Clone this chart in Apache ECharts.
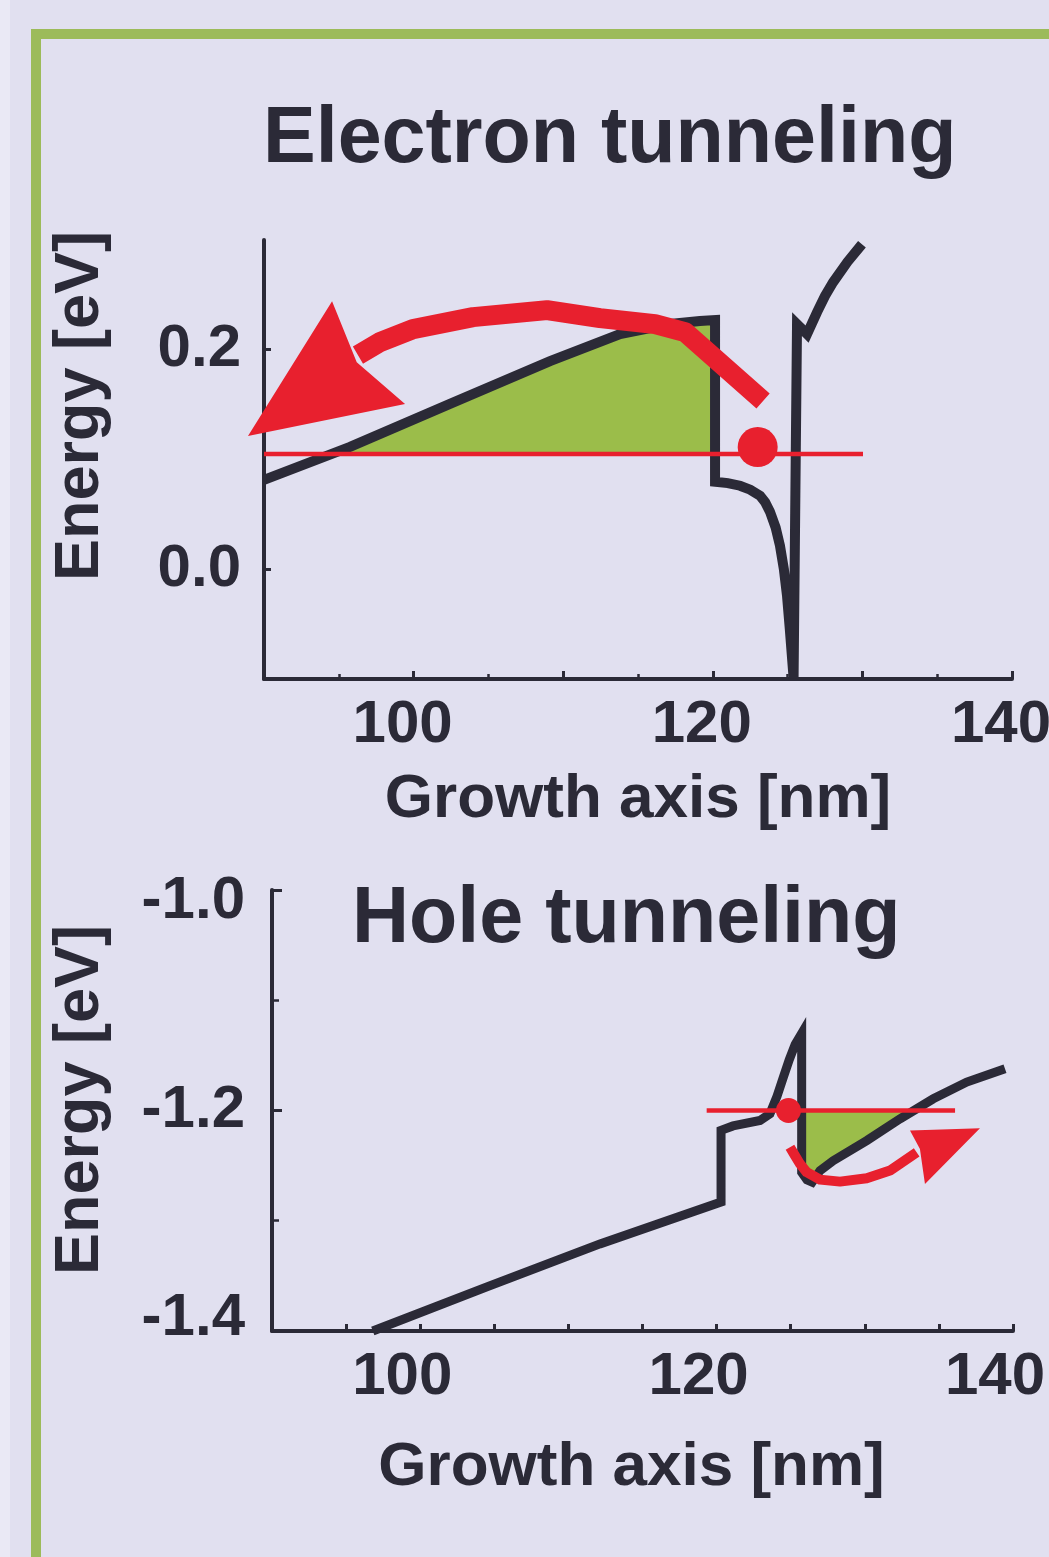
<!DOCTYPE html>
<html>
<head>
<meta charset="utf-8">
<script src="https://cdn.jsdelivr.net/npm/echarts@6/dist/echarts.min.js"></script>
<style>
  html, body { margin: 0; padding: 0; background: #e1e0f0; }
  #chart { width: 1049px; height: 1557px; }
</style>
</head>
<body>
<div id="chart"></div>
<script>
// ---- Band-edge profiles along the growth axis: [position nm, energy eV] ----
const electronBand = [
  [90, 0.0815], [95.75, 0.1115], [102.43, 0.1506], [109.12, 0.1897], [113.8, 0.2143],
  [117.14, 0.2234], [119.14, 0.2261], [120.15, 0.227], [120.15, 0.0797], [121.0, 0.0785],
  [121.82, 0.0761], [122.5, 0.0725], [123.16, 0.067], [123.5, 0.061], [123.82, 0.0525],
  [124.2, 0.038], [124.49, 0.0215], [124.75, 0.0], [124.96, -0.024], [125.15, -0.055],
  [125.4, -0.099], [125.63, 0.2234], [126.3, 0.2143], [126.97, 0.2343], [127.5, 0.249],
  [128.04, 0.2615], [129.0, 0.280], [129.97, 0.2961]
];
const electronLevel = 0.105;            // confined electron state energy
const electronLevelSpan = [90, 130.04]; // extent of the level line
const electronDot = [123.0, 0.1113];
const electronArrowPath = [
  [123.36, 0.1534], [118.14, 0.2161], [116.14, 0.2234], [112.46, 0.2288], [108.92, 0.2361],
  [103.97, 0.2297], [99.96, 0.2188], [97.75, 0.207], [96.28, 0.1952]
];
const electronArrowHead = [[94.55, 0.2443], [88.93, 0.1215], [99.43, 0.1506], [96.2, 0.1885]];

const holeBand = [
  [96.8, -1.4], [104.5, -1.36], [112.13, -1.321], [120.3, -1.283], [120.3, -1.218],
  [121.11, -1.214], [122.93, -1.209], [123.6, -1.203], [124.08, -1.187], [124.5, -1.170],
  [124.9, -1.154], [125.3, -1.140], [125.74, -1.130], [125.74, -1.256], [126.1, -1.263],
  [126.45, -1.265], [126.98, -1.2545], [127.87, -1.2455], [130.13, -1.2273], [132.38, -1.2075],
  [134.62, -1.1894], [136.88, -1.1742], [139.46, -1.1621]
];
const holeLevel = -1.2;
const holeLevelSpan = [119.33, 136.09];
const holeDot = [124.85, -1.2];
const holeArrowPath = [
  [124.95, -1.2333], [125.29, -1.2409], [125.63, -1.2485], [126.08, -1.256], [126.98, -1.2627],
  [128.33, -1.2645], [130.13, -1.2615], [131.7, -1.2545], [133.5, -1.238]
];
const holeArrowHead = [[133.05, -1.2182], [137.77, -1.216], [134.06, -1.2667], [133.72, -1.2349]];

// Tick labels
const electronYTicks = [0.0, 0.2];
const xLabelValues = [100, 120, 140];

// ---- Styling ----
const INK = '#2b2a37';
const RED = '#e8202e';
const FILL = '#9bbd4a';
const FONT = '"Liberation Sans", Arial, Helvetica, sans-serif';

// Region enclosed between a band profile and an energy level (first continuous run on one side)
function regionBetween(curve, level, above) {
  const poly = [];
  let started = false;
  const isIn = p => above ? p[1] >= level : p[1] <= level;
  for (let i = 0; i < curve.length; i++) {
    const p = curve[i];
    const inside = isIn(p);
    if (i > 0) {
      const q = curve[i - 1];
      if (inside !== isIn(q)) {
        const t = (level - q[1]) / (p[1] - q[1]);
        poly.push([q[0] + t * (p[0] - q[0]), level]);
        if (!inside && started) return poly;
        if (inside) started = true;
      }
    }
    if (inside && started) poly.push(p);
  }
  return poly;
}

// Hole region starts after the barrier spike (the band maximum)
let spikeIdx = 0;
holeBand.forEach((p, i) => { if (p[1] > holeBand[spikeIdx][1]) spikeIdx = i; });
const electronRegion = regionBetween(electronBand, electronLevel, true);
const holeRegion = regionBetween(holeBand.slice(spikeIdx), holeLevel, false);

const labelFont = { fontSize: 60, fontWeight: 'bold', color: INK, fontFamily: FONT };
const nameFont = { fontSize: 62, fontWeight: 'bold', color: INK, fontFamily: FONT };

function xAxisOf(gridIndex, opts) {
  return Object.assign({
    gridIndex, type: 'value', min: 90, max: 140,
    name: 'Growth axis [nm]', nameLocation: 'middle', nameMoveOverlap: false,
    axisLine: { show: true, onZero: false, lineStyle: { color: INK, width: 4 } },
    splitLine: { show: false }
  }, opts);
}

function polygonItem(points, fill) {
  return (params, api) => ({
    type: 'polygon',
    shape: { points: points.map(p => api.coord(p)) },
    style: { fill }
  });
}

function arrowItem(path, head, width) {
  return (params, api) => ({
    type: 'group',
    children: [
      { type: 'polyline', shape: { points: path.map(p => api.coord(p)) },
        style: { stroke: RED, lineWidth: width, fill: null, lineJoin: 'round', lineCap: 'butt' } },
      { type: 'polygon', shape: { points: head.map(p => api.coord(p)) }, style: { fill: RED } }
    ]
  });
}

const option = {
  backgroundColor: '#e1e0f0',
  animation: false,
  title: [
    { text: 'Electron tunneling', left: 263, top: 101, padding: 0,
      textStyle: { fontSize: 79, fontWeight: 'bold', color: INK, fontFamily: FONT } },
    { text: 'Hole tunneling', left: 352, top: 881, padding: 0,
      textStyle: { fontSize: 79, fontWeight: 'bold', color: INK, fontFamily: FONT } }
  ],
  grid: [
    { left: 264, top: 240, width: 748, height: 439, containLabel: false, outerBoundsMode: 'none' },
    { left: 272, top: 890, width: 741, height: 441, containLabel: false, outerBoundsMode: 'none' }
  ],
  xAxis: [
    xAxisOf(0, {
      interval: 10, nameGap: 90, nameTextStyle: nameFont,
      axisTick: { show: true, inside: true, length: 8, lineStyle: { color: INK, width: 3 } },
      minorTick: { show: true, splitNumber: 2, length: 5, lineStyle: { color: INK, width: 2.5 } },
      axisLabel: Object.assign({ margin: 16, padding: [0, 22, 0, 0],
        formatter: v => (xLabelValues.indexOf(v) >= 0 ? String(v) : '') }, labelFont)
    }),
    xAxisOf(1, {
      interval: 5, nameGap: 106, nameTextStyle: Object.assign({ padding: [0, 22, 0, 0] }, nameFont),
      axisTick: { show: true, inside: true, length: 7, lineStyle: { color: INK, width: 3 } },
      axisLabel: Object.assign({ margin: 16, padding: [0, 36, 0, 0],
        formatter: v => (xLabelValues.indexOf(v) >= 0 ? String(v) : '') }, labelFont)
    })
  ],
  yAxis: [
    {
      gridIndex: 0, type: 'value', min: -0.1, max: 0.3,
      axisLine: { show: true, onZero: false, lineStyle: { color: INK, width: 4 } },
      axisTick: { show: true, inside: true, length: 7, customValues: electronYTicks,
        lineStyle: { color: INK, width: 3 } },
      splitLine: { show: false },
      axisLabel: Object.assign({ margin: 23, customValues: electronYTicks,
        formatter: v => v.toFixed(1) }, labelFont)
    },
    {
      gridIndex: 1, type: 'value', min: -1.4, max: -1.0, interval: 0.2,
      axisLine: { show: true, onZero: false, lineStyle: { color: INK, width: 4 } },
      axisTick: { show: true, inside: true, length: 10, lineStyle: { color: INK, width: 3 } },
      minorTick: { show: true, splitNumber: 2, length: 7, lineStyle: { color: INK, width: 2.5 } },
      splitLine: { show: false },
      axisLabel: Object.assign({
        margin: 27,
        formatter: v => {
          const s = v.toFixed(1);
          if (Math.abs(v + 1.0) < 1e-9) return '{lo|' + s + '}';
          if (Math.abs(v + 1.4) < 1e-9) return '{hi|' + s + '}';
          return s;
        },
        rich: {
          lo: Object.assign({ padding: [22, 0, 0, 0] }, labelFont),
          hi: Object.assign({ padding: [0, 0, 26, 0] }, labelFont)
        }
      }, labelFont)
    }
  ],
  graphic: [
    { type: 'rect', silent: true, z: -10, shape: { x: 0, y: 0, width: 10, height: 1557 },
      style: { fill: '#eae9f5' } },
    { type: 'polyline', silent: true, shape: { points: [[36, 1557], [36, 34], [1049, 34]] },
      style: { stroke: '#9cbb5a', lineWidth: 10, fill: null } },
    { type: 'text', x: 81, y: 406, rotation: Math.PI / 2, silent: true,
      style: { text: 'Energy [eV]', fontSize: 63, fontWeight: 'bold', fontFamily: FONT,
        fill: INK, align: 'center', verticalAlign: 'middle' } },
    { type: 'text', x: 81, y: 1100, rotation: Math.PI / 2, silent: true,
      style: { text: 'Energy [eV]', fontSize: 63, fontWeight: 'bold', fontFamily: FONT,
        fill: INK, align: 'center', verticalAlign: 'middle' } }
  ],
  series: [
    // ----- Electron tunneling -----
    { type: 'custom', name: 'Electron region', xAxisIndex: 0, yAxisIndex: 0, z: 1, silent: true,
      data: [electronRegion[0]], renderItem: polygonItem(electronRegion, FILL) },
    { type: 'line', name: 'Conduction band', xAxisIndex: 0, yAxisIndex: 0, z: 2,
      data: electronBand, showSymbol: false, silent: true,
      lineStyle: { color: INK, width: 10, join: 'miter' } },
    { type: 'line', name: 'Electron level', xAxisIndex: 0, yAxisIndex: 0, z: 3,
      data: [[electronLevelSpan[0], electronLevel], [electronLevelSpan[1], electronLevel]],
      showSymbol: false, silent: true, lineStyle: { color: RED, width: 4.5 } },
    { type: 'custom', name: 'Electron escape', xAxisIndex: 0, yAxisIndex: 0, z: 4, silent: true,
      clip: false, data: [electronArrowPath[0]],
      renderItem: arrowItem(electronArrowPath, electronArrowHead, 20) },
    { type: 'scatter', name: 'Electron', xAxisIndex: 0, yAxisIndex: 0, z: 5, silent: true,
      data: [electronDot], symbolSize: 40, itemStyle: { color: RED, opacity: 1 } },

    // ----- Hole tunneling -----
    { type: 'custom', name: 'Hole region', xAxisIndex: 1, yAxisIndex: 1, z: 1, silent: true,
      data: [holeRegion[0]], renderItem: polygonItem(holeRegion, FILL) },
    { type: 'line', name: 'Valence band', xAxisIndex: 1, yAxisIndex: 1, z: 2,
      data: holeBand, showSymbol: false, silent: true,
      lineStyle: { color: INK, width: 9, join: 'miter' } },
    { type: 'line', name: 'Hole level', xAxisIndex: 1, yAxisIndex: 1, z: 3,
      data: [[holeLevelSpan[0], holeLevel], [holeLevelSpan[1], holeLevel]],
      showSymbol: false, silent: true, lineStyle: { color: RED, width: 4.5 } },
    { type: 'custom', name: 'Hole escape', xAxisIndex: 1, yAxisIndex: 1, z: 4, silent: true,
      clip: false, data: [holeArrowPath[0]],
      renderItem: arrowItem(holeArrowPath, holeArrowHead, 10) },
    { type: 'scatter', name: 'Hole', xAxisIndex: 1, yAxisIndex: 1, z: 5, silent: true,
      data: [holeDot], symbolSize: 25, itemStyle: { color: RED, opacity: 1 } }
  ]
};

const chart = echarts.init(document.getElementById('chart'), null, { renderer: 'canvas' });
chart.setOption(option);
</script>
</body>
</html>
